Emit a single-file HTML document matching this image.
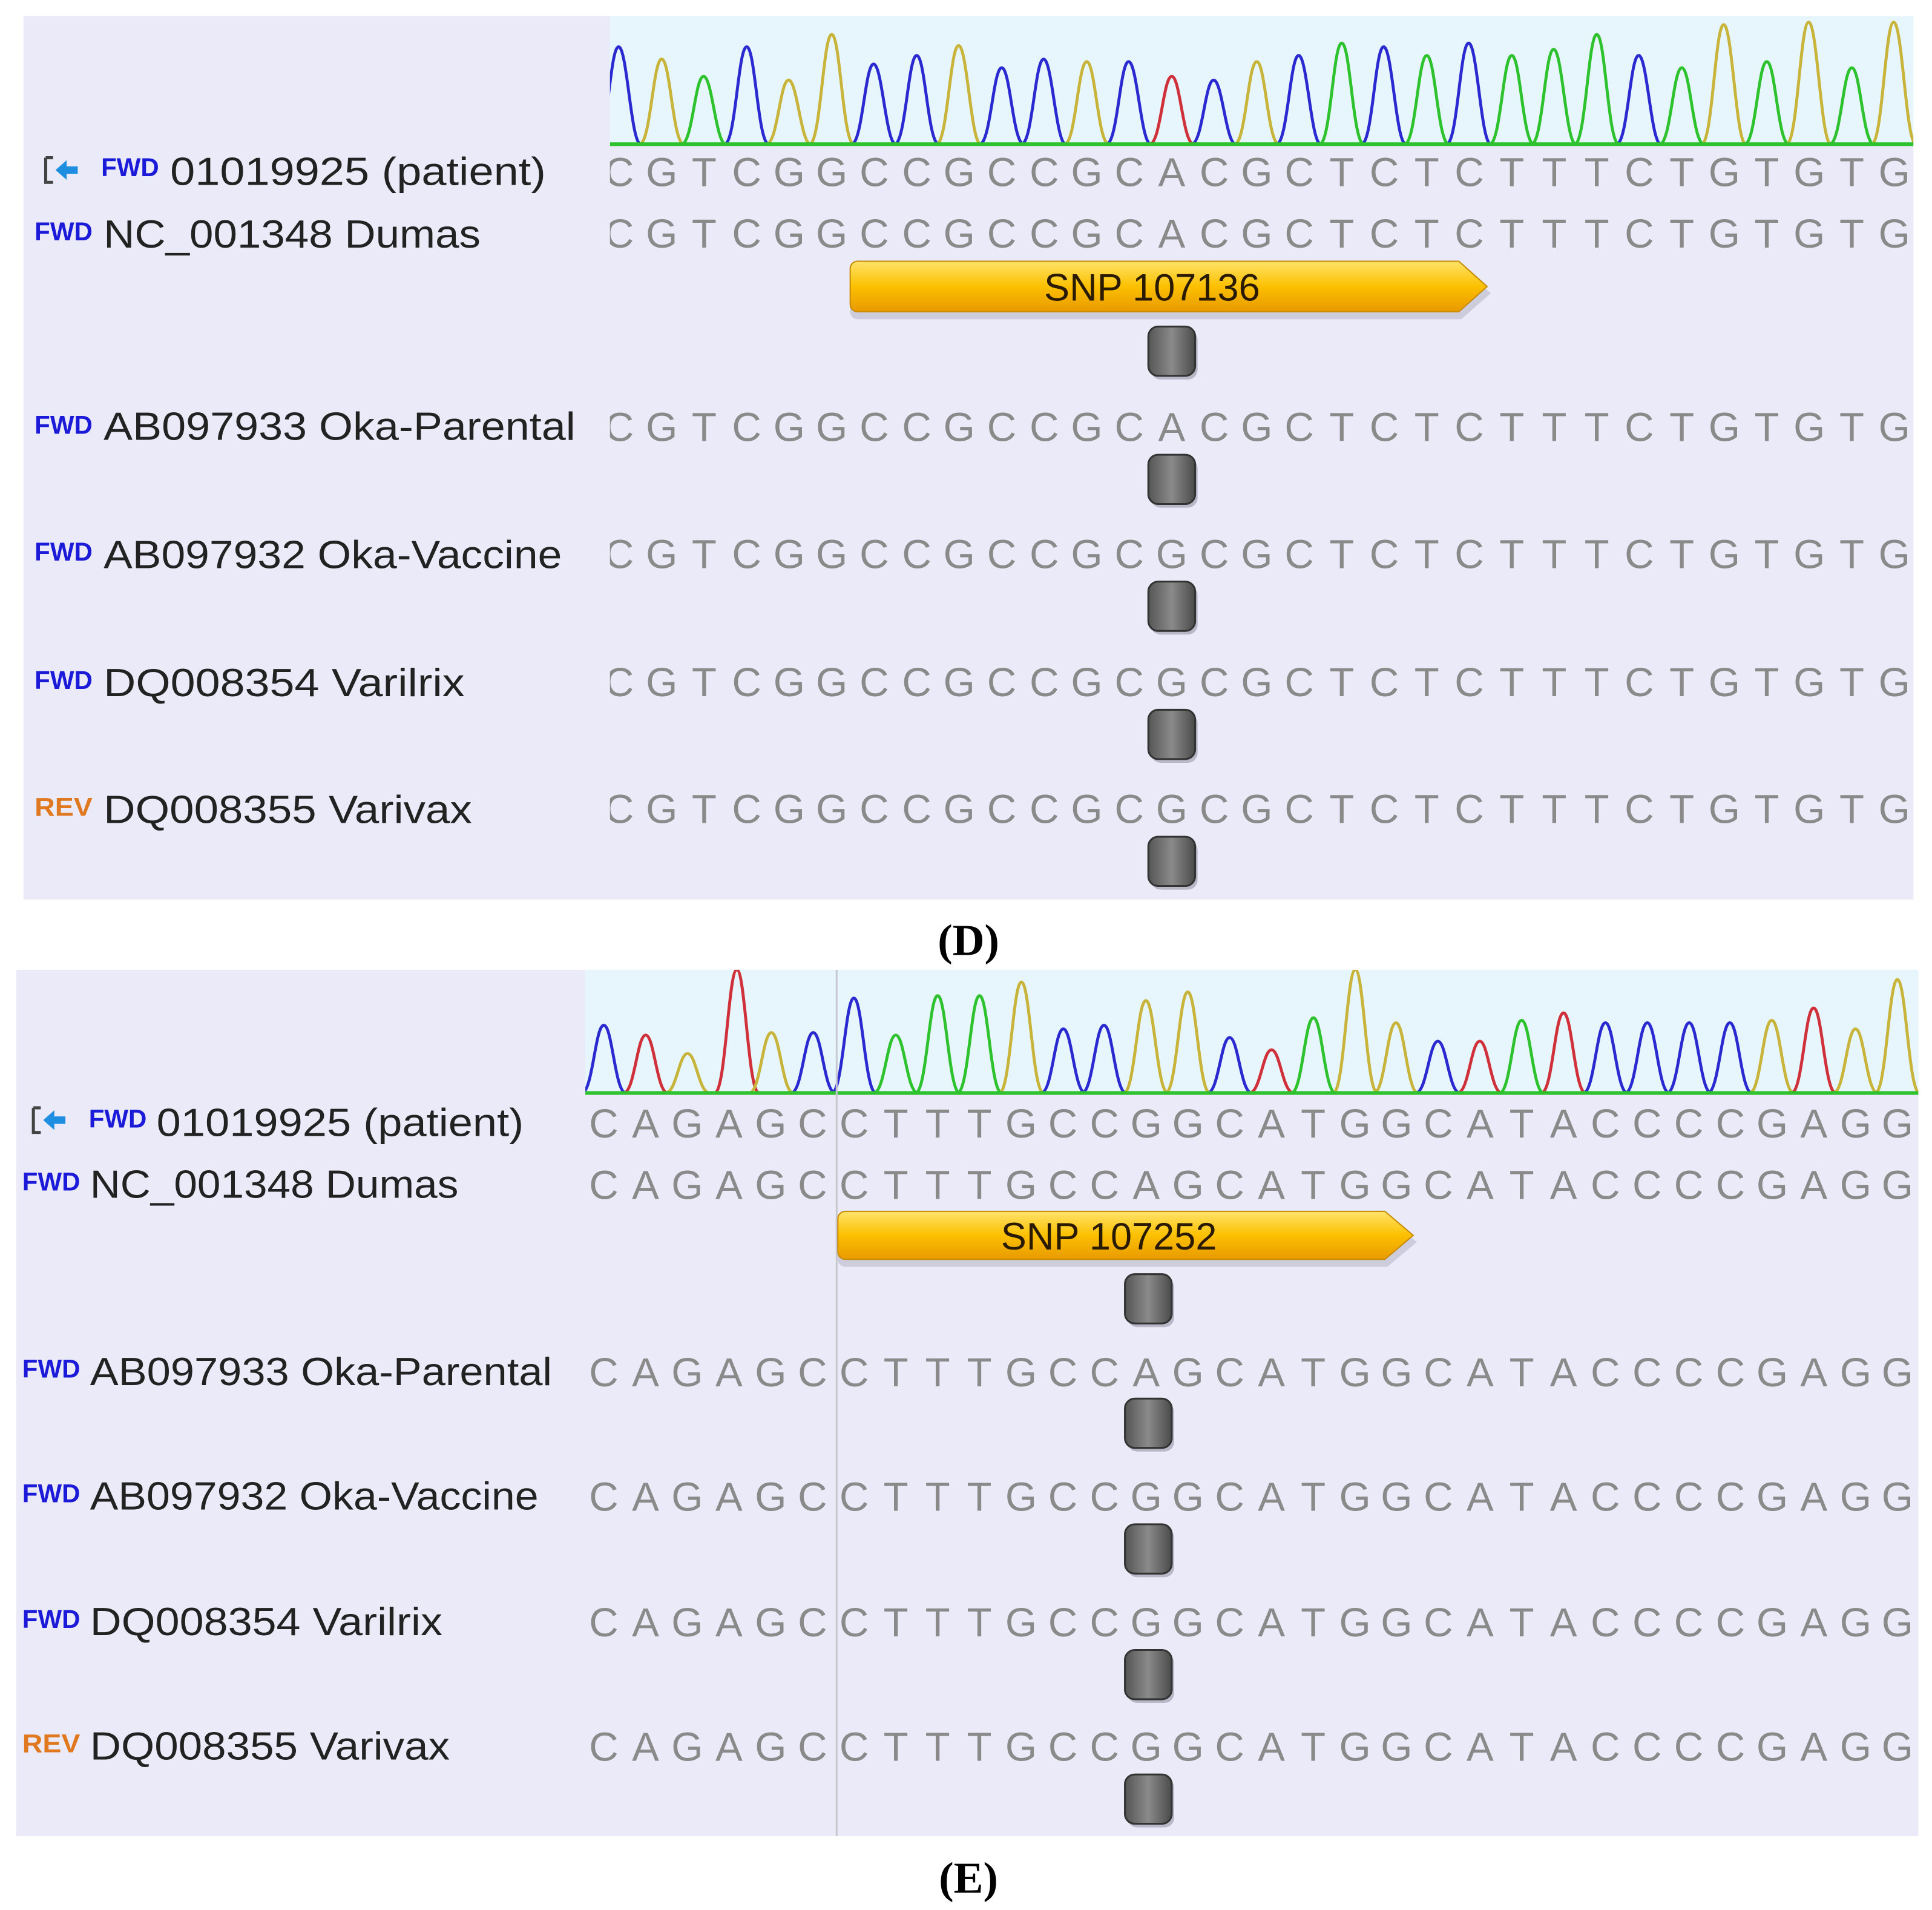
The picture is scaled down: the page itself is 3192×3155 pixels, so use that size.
<!DOCTYPE html>
<html><head><meta charset="utf-8"><style>
html,body{margin:0;padding:0;background:#fff}
svg{display:block}
.lb{font-family:"Liberation Sans",sans-serif;font-size:32px;fill:#222}
.tg{font-family:"Liberation Sans",sans-serif;font-size:21px;fill:#1a1ad8;font-weight:bold}
.rv{fill:#e07820}
.sq{font-family:"Liberation Sans",sans-serif;font-size:33px;fill:#8a8a8a;text-anchor:middle}
.cap{font-family:"Liberation Serif",serif;font-size:36px;font-weight:bold;text-anchor:middle;fill:#000}
.snp{font-family:"Liberation Sans",sans-serif;font-size:31px;fill:#2a1a00;text-anchor:middle}
.pk{fill:none;stroke-width:2.4}
.A{stroke:#d0303a}.C{stroke:#2a2ad0}.G{stroke:#c8b43a}.T{stroke:#2ec22e}
</style></head><body>
<svg width="3192" height="3155" viewBox="0 0 1568 1550" xmlns="http://www.w3.org/2000/svg">
<defs>
<linearGradient id="yg" x1="0" y1="0" x2="0" y2="1"><stop offset="0" stop-color="#ffe36a"/><stop offset="0.5" stop-color="#fcc000"/><stop offset="1" stop-color="#e89a00"/></linearGradient>
<linearGradient id="gg" x1="0" y1="0" x2="1" y2="0"><stop offset="0" stop-color="#555"/><stop offset="0.5" stop-color="#8a8a8a"/><stop offset="1" stop-color="#4a4a4a"/></linearGradient>
<clipPath id="cd"><rect x="495" y="13" width="1058" height="717"/></clipPath>
<clipPath id="ce"><rect x="475" y="787" width="1082" height="703"/></clipPath>
<g id="mk"><rect x="2" y="3" width="38" height="40" rx="8" fill="#b8b8c8"/><rect x="0" y="0" width="38" height="40" rx="8" fill="url(#gg)" stroke="#333" stroke-width="1.5"/></g>
<g id="ic"><path d="M2 2 h6 M2 2 v20 h6" stroke="#444" stroke-width="2.5" fill="none"/><path d="M10 12 l9 -8 v5 h9 v6 h-9 v5 z" fill="#1e8ee0"/></g>
</defs>

<!-- Panel D -->
<rect x="19" y="13" width="1534" height="717" fill="#eaeaf9"/>
<rect x="495" y="13" width="1058" height="105" fill="#e6f6fc"/>
<g clip-path="url(#cd)">
<path class="pk C" d="M484 117 C493 117 495 38 502 38 S512 117 520 117"/>
<path class="pk G" d="M519 117 C528 117 530 48 537 48 S546 117 555 117"/>
<path class="pk T" d="M553 117 C562 117 564 62 571 62 S581 117 589 117"/>
<path class="pk C" d="M588 117 C597 117 599 38 606 38 S615 117 624 117"/>
<path class="pk G" d="M622 117 C631 117 633 65 640 65 S650 117 658 117"/>
<path class="pk G" d="M657 117 C666 117 668 28 675 28 S684 117 693 117"/>
<path class="pk C" d="M691 117 C700 117 702 52 709 52 S719 117 727 117"/>
<path class="pk C" d="M726 117 C735 117 737 45 744 45 S753 117 762 117"/>
<path class="pk G" d="M760 117 C769 117 771 37 778 37 S788 117 796 117"/>
<path class="pk C" d="M795 117 C804 117 806 55 813 55 S822 117 831 117"/>
<path class="pk C" d="M829 117 C838 117 840 48 847 48 S857 117 865 117"/>
<path class="pk G" d="M864 117 C873 117 875 50 882 50 S891 117 900 117"/>
<path class="pk C" d="M898 117 C907 117 909 50 916 50 S926 117 934 117"/>
<path class="pk A" d="M933 117 C942 117 944 62 951 62 S960 117 969 117"/>
<path class="pk C" d="M967 117 C976 117 978 65 985 65 S995 117 1003 117"/>
<path class="pk G" d="M1002 117 C1011 117 1013 50 1020 50 S1029 117 1038 117"/>
<path class="pk C" d="M1036 117 C1045 117 1047 45 1054 45 S1064 117 1072 117"/>
<path class="pk T" d="M1071 117 C1080 117 1082 35 1089 35 S1098 117 1107 117"/>
<path class="pk C" d="M1105 117 C1114 117 1116 38 1123 38 S1133 117 1141 117"/>
<path class="pk T" d="M1140 117 C1149 117 1151 45 1158 45 S1167 117 1176 117"/>
<path class="pk C" d="M1174 117 C1183 117 1185 35 1192 35 S1202 117 1210 117"/>
<path class="pk T" d="M1209 117 C1218 117 1220 45 1227 45 S1236 117 1245 117"/>
<path class="pk T" d="M1243 117 C1252 117 1254 40 1261 40 S1271 117 1279 117"/>
<path class="pk T" d="M1278 117 C1287 117 1289 28 1296 28 S1305 117 1314 117"/>
<path class="pk C" d="M1312 117 C1321 117 1323 45 1330 45 S1340 117 1348 117"/>
<path class="pk T" d="M1347 117 C1356 117 1358 55 1365 55 S1374 117 1383 117"/>
<path class="pk G" d="M1381 117 C1390 117 1392 20 1399 20 S1409 117 1417 117"/>
<path class="pk T" d="M1416 117 C1425 117 1427 50 1434 50 S1443 117 1452 117"/>
<path class="pk G" d="M1450 117 C1459 117 1461 18 1468 18 S1478 117 1486 117"/>
<path class="pk T" d="M1485 117 C1494 117 1496 55 1503 55 S1512 117 1521 117"/>
<path class="pk G" d="M1519 117 C1528 117 1530 18 1537 18 S1547 117 1555 117"/>
<line x1="495" y1="117" x2="1553" y2="117" stroke="#2ec22e" stroke-width="3"/>
<g class="sq">
<text y="151" x="502.5 537 571.5 606 640.5 675 709.5 744 778.5 813 847.5 882 916.5 951 985.5 1020 1054.5 1089 1123.5 1158 1192.5 1227 1261.5 1296 1330.5 1365 1399.5 1434 1468.5 1503 1537.5">CGTCGGCCGCCGCACGCTCTCTTTCTGTGTG</text>
<text y="201" x="502.5 537 571.5 606 640.5 675 709.5 744 778.5 813 847.5 882 916.5 951 985.5 1020 1054.5 1089 1123.5 1158 1192.5 1227 1261.5 1296 1330.5 1365 1399.5 1434 1468.5 1503 1537.5">CGTCGGCCGCCGCACGCTCTCTTTCTGTGTG</text>
<text y="358" x="502.5 537 571.5 606 640.5 675 709.5 744 778.5 813 847.5 882 916.5 951 985.5 1020 1054.5 1089 1123.5 1158 1192.5 1227 1261.5 1296 1330.5 1365 1399.5 1434 1468.5 1503 1537.5">CGTCGGCCGCCGCACGCTCTCTTTCTGTGTG</text>
<text y="461" x="502.5 537 571.5 606 640.5 675 709.5 744 778.5 813 847.5 882 916.5 951 985.5 1020 1054.5 1089 1123.5 1158 1192.5 1227 1261.5 1296 1330.5 1365 1399.5 1434 1468.5 1503 1537.5">CGTCGGCCGCCGCGCGCTCTCTTTCTGTGTG</text>
<text y="565" x="502.5 537 571.5 606 640.5 675 709.5 744 778.5 813 847.5 882 916.5 951 985.5 1020 1054.5 1089 1123.5 1158 1192.5 1227 1261.5 1296 1330.5 1365 1399.5 1434 1468.5 1503 1537.5">CGTCGGCCGCCGCGCGCTCTCTTTCTGTGTG</text>
<text y="668" x="502.5 537 571.5 606 640.5 675 709.5 744 778.5 813 847.5 882 916.5 951 985.5 1020 1054.5 1089 1123.5 1158 1192.5 1227 1261.5 1296 1330.5 1365 1399.5 1434 1468.5 1503 1537.5">CGTCGGCCGCCGCGCGCTCTCTTTCTGTGTG</text>
</g>
</g>
<path d="M696 217 h490 l24 21 l-24 21 h-490 a6 6 0 0 1 -6 -6 v-30 a6 6 0 0 1 6 -6z" fill="#b8b8c8" opacity="0.6"/>
<path d="M696 212 h488 l23 20.5 l-23 20.5 h-488 a6 6 0 0 1 -6 -6 v-29 a6 6 0 0 1 6 -6z" fill="url(#yg)" stroke="#c88a00" stroke-width="1"/>
<text class="snp" x="935" y="244">SNP 107136</text>
<use href="#mk" x="932" y="265"/>
<use href="#mk" x="932" y="369"/>
<use href="#mk" x="932" y="472"/>
<use href="#mk" x="932" y="576"/>
<use href="#mk" x="932" y="679"/>
<use href="#ic" x="35" y="126"/>
<text class="tg" x="82" y="143" textLength="47" lengthAdjust="spacingAndGlyphs">FWD</text>
<text class="lb" x="138" y="150" textLength="305" lengthAdjust="spacingAndGlyphs">01019925 (patient)</text>
<text class="tg" x="28" y="195" textLength="47" lengthAdjust="spacingAndGlyphs">FWD</text>
<text class="lb" x="84" y="201" textLength="306" lengthAdjust="spacingAndGlyphs">NC_001348 Dumas</text>
<text class="tg" x="28" y="352" textLength="47" lengthAdjust="spacingAndGlyphs">FWD</text>
<text class="lb" x="84" y="357" textLength="383" lengthAdjust="spacingAndGlyphs">AB097933 Oka-Parental</text>
<text class="tg" x="28" y="455" textLength="47" lengthAdjust="spacingAndGlyphs">FWD</text>
<text class="lb" x="84" y="461" textLength="372" lengthAdjust="spacingAndGlyphs">AB097932 Oka-Vaccine</text>
<text class="tg" x="28" y="559" textLength="47" lengthAdjust="spacingAndGlyphs">FWD</text>
<text class="lb" x="84" y="565" textLength="293" lengthAdjust="spacingAndGlyphs">DQ008354 Varilrix</text>
<text class="tg rv" x="28" y="662" textLength="47" lengthAdjust="spacingAndGlyphs">REV</text>
<text class="lb" x="84" y="668" textLength="299" lengthAdjust="spacingAndGlyphs">DQ008355 Varivax</text>
<text class="cap" x="786" y="775">(D)</text>

<!-- Panel E -->
<rect x="13" y="787" width="1544" height="703" fill="#eaeaf9"/>
<rect x="475" y="787" width="1082" height="101" fill="#e6f6fc"/>
<g clip-path="url(#ce)">
<path class="pk C" d="M472 887 C481 887 483 832 490 832 S499 887 508 887"/>
<path class="pk A" d="M506 887 C515 887 517 840 524 840 S533 887 542 887"/>
<path class="pk G" d="M540 887 C549 887 551 855 558 855 S567 887 576 887"/>
<path class="pk A" d="M580 887 C589 887 591 787 598 787 S607 887 616 887"/>
<path class="pk G" d="M608 887 C617 887 619 838 626 838 S635 887 644 887"/>
<path class="pk C" d="M642 887 C651 887 653 838 660 838 S669 887 678 887"/>
<path class="pk C" d="M675 887 C684 887 686 810 693 810 S702 887 711 887"/>
<path class="pk T" d="M709 887 C718 887 720 840 727 840 S736 887 745 887"/>
<path class="pk T" d="M743 887 C752 887 754 808 761 808 S770 887 779 887"/>
<path class="pk T" d="M777 887 C786 887 788 808 795 808 S804 887 813 887"/>
<path class="pk G" d="M811 887 C820 887 822 797 829 797 S838 887 847 887"/>
<path class="pk C" d="M845 887 C854 887 856 835 863 835 S872 887 881 887"/>
<path class="pk C" d="M878 887 C887 887 889 832 896 832 S905 887 914 887"/>
<path class="pk G" d="M912 887 C921 887 923 812 930 812 S939 887 948 887"/>
<path class="pk G" d="M946 887 C955 887 957 805 964 805 S973 887 982 887"/>
<path class="pk C" d="M980 887 C989 887 991 842 998 842 S1007 887 1016 887"/>
<path class="pk A" d="M1014 887 C1023 887 1025 852 1032 852 S1041 887 1050 887"/>
<path class="pk T" d="M1048 887 C1057 887 1059 826 1066 826 S1075 887 1084 887"/>
<path class="pk G" d="M1082 887 C1091 887 1093 787 1100 787 S1109 887 1118 887"/>
<path class="pk G" d="M1115 887 C1124 887 1126 830 1133 830 S1142 887 1151 887"/>
<path class="pk C" d="M1149 887 C1158 887 1160 845 1167 845 S1176 887 1185 887"/>
<path class="pk A" d="M1183 887 C1192 887 1194 845 1201 845 S1210 887 1219 887"/>
<path class="pk T" d="M1217 887 C1226 887 1228 828 1235 828 S1244 887 1253 887"/>
<path class="pk A" d="M1251 887 C1260 887 1262 822 1269 822 S1278 887 1287 887"/>
<path class="pk C" d="M1285 887 C1294 887 1296 830 1303 830 S1312 887 1321 887"/>
<path class="pk C" d="M1319 887 C1328 887 1330 830 1337 830 S1346 887 1355 887"/>
<path class="pk C" d="M1353 887 C1362 887 1364 830 1371 830 S1380 887 1389 887"/>
<path class="pk C" d="M1386 887 C1395 887 1397 830 1404 830 S1413 887 1422 887"/>
<path class="pk G" d="M1420 887 C1429 887 1431 828 1438 828 S1447 887 1456 887"/>
<path class="pk A" d="M1454 887 C1463 887 1465 818 1472 818 S1481 887 1490 887"/>
<path class="pk G" d="M1488 887 C1497 887 1499 835 1506 835 S1515 887 1524 887"/>
<path class="pk G" d="M1522 887 C1531 887 1533 795 1540 795 S1549 887 1558 887"/>
<line x1="475" y1="887" x2="1557" y2="887" stroke="#2ec22e" stroke-width="3"/>
<g class="sq">
<text y="923" x="490 523.9 557.7 591.6 625.5 659.4 693.2 727.1 761 794.8 828.7 862.6 896.4 930.3 964.2 998 1031.9 1065.8 1099.7 1133.5 1167.4 1201.3 1235.1 1269 1302.9 1336.8 1370.6 1404.5 1438.4 1472.2 1506.1 1540">CAGAGCCTTTGCCGGCATGGCATACCCCGAGG</text>
<text y="973" x="490 523.9 557.7 591.6 625.5 659.4 693.2 727.1 761 794.8 828.7 862.6 896.4 930.3 964.2 998 1031.9 1065.8 1099.7 1133.5 1167.4 1201.3 1235.1 1269 1302.9 1336.8 1370.6 1404.5 1438.4 1472.2 1506.1 1540">CAGAGCCTTTGCCAGCATGGCATACCCCGAGG</text>
<text y="1125" x="490 523.9 557.7 591.6 625.5 659.4 693.2 727.1 761 794.8 828.7 862.6 896.4 930.3 964.2 998 1031.9 1065.8 1099.7 1133.5 1167.4 1201.3 1235.1 1269 1302.9 1336.8 1370.6 1404.5 1438.4 1472.2 1506.1 1540">CAGAGCCTTTGCCAGCATGGCATACCCCGAGG</text>
<text y="1226" x="490 523.9 557.7 591.6 625.5 659.4 693.2 727.1 761 794.8 828.7 862.6 896.4 930.3 964.2 998 1031.9 1065.8 1099.7 1133.5 1167.4 1201.3 1235.1 1269 1302.9 1336.8 1370.6 1404.5 1438.4 1472.2 1506.1 1540">CAGAGCCTTTGCCGGCATGGCATACCCCGAGG</text>
<text y="1328" x="490 523.9 557.7 591.6 625.5 659.4 693.2 727.1 761 794.8 828.7 862.6 896.4 930.3 964.2 998 1031.9 1065.8 1099.7 1133.5 1167.4 1201.3 1235.1 1269 1302.9 1336.8 1370.6 1404.5 1438.4 1472.2 1506.1 1540">CAGAGCCTTTGCCGGCATGGCATACCCCGAGG</text>
<text y="1429" x="490 523.9 557.7 591.6 625.5 659.4 693.2 727.1 761 794.8 828.7 862.6 896.4 930.3 964.2 998 1031.9 1065.8 1099.7 1133.5 1167.4 1201.3 1235.1 1269 1302.9 1336.8 1370.6 1404.5 1438.4 1472.2 1506.1 1540">CAGAGCCTTTGCCGGCATGGCATACCCCGAGG</text>
</g>
</g>
<line x1="679" y1="787" x2="679" y2="1490" stroke="#c8c8d0" stroke-width="1.5"/>
<path d="M686 988 h440 l24 20 l-24 20 h-440 a6 6 0 0 1 -6 -6 v-28 a6 6 0 0 1 6 -6z" fill="#b8b8c8" opacity="0.6"/>
<path d="M686 983 h438 l23 19.5 l-23 19.5 h-438 a6 6 0 0 1 -6 -6 v-27 a6 6 0 0 1 6 -6z" fill="url(#yg)" stroke="#c88a00" stroke-width="1"/>
<text class="snp" x="900" y="1014">SNP 107252</text>
<use href="#mk" x="913" y="1034"/>
<use href="#mk" x="913" y="1135"/>
<use href="#mk" x="913" y="1237"/>
<use href="#mk" x="913" y="1339"/>
<use href="#mk" x="913" y="1440"/>
<use href="#ic" x="25" y="897"/>
<text class="tg" x="72" y="915" textLength="47" lengthAdjust="spacingAndGlyphs">FWD</text>
<text class="lb" x="127" y="922" textLength="298" lengthAdjust="spacingAndGlyphs">01019925 (patient)</text>
<text class="tg" x="18" y="966" textLength="47" lengthAdjust="spacingAndGlyphs">FWD</text>
<text class="lb" x="73" y="972" textLength="299" lengthAdjust="spacingAndGlyphs">NC_001348 Dumas</text>
<text class="tg" x="18" y="1118" textLength="47" lengthAdjust="spacingAndGlyphs">FWD</text>
<text class="lb" x="73" y="1124" textLength="375" lengthAdjust="spacingAndGlyphs">AB097933 Oka-Parental</text>
<text class="tg" x="18" y="1219" textLength="47" lengthAdjust="spacingAndGlyphs">FWD</text>
<text class="lb" x="73" y="1225" textLength="364" lengthAdjust="spacingAndGlyphs">AB097932 Oka-Vaccine</text>
<text class="tg" x="18" y="1321" textLength="47" lengthAdjust="spacingAndGlyphs">FWD</text>
<text class="lb" x="73" y="1327" textLength="286" lengthAdjust="spacingAndGlyphs">DQ008354 Varilrix</text>
<text class="tg rv" x="18" y="1422" textLength="47" lengthAdjust="spacingAndGlyphs">REV</text>
<text class="lb" x="73" y="1428" textLength="292" lengthAdjust="spacingAndGlyphs">DQ008355 Varivax</text>
<text class="cap" x="786" y="1536">(E)</text>
</svg>
</body></html>
